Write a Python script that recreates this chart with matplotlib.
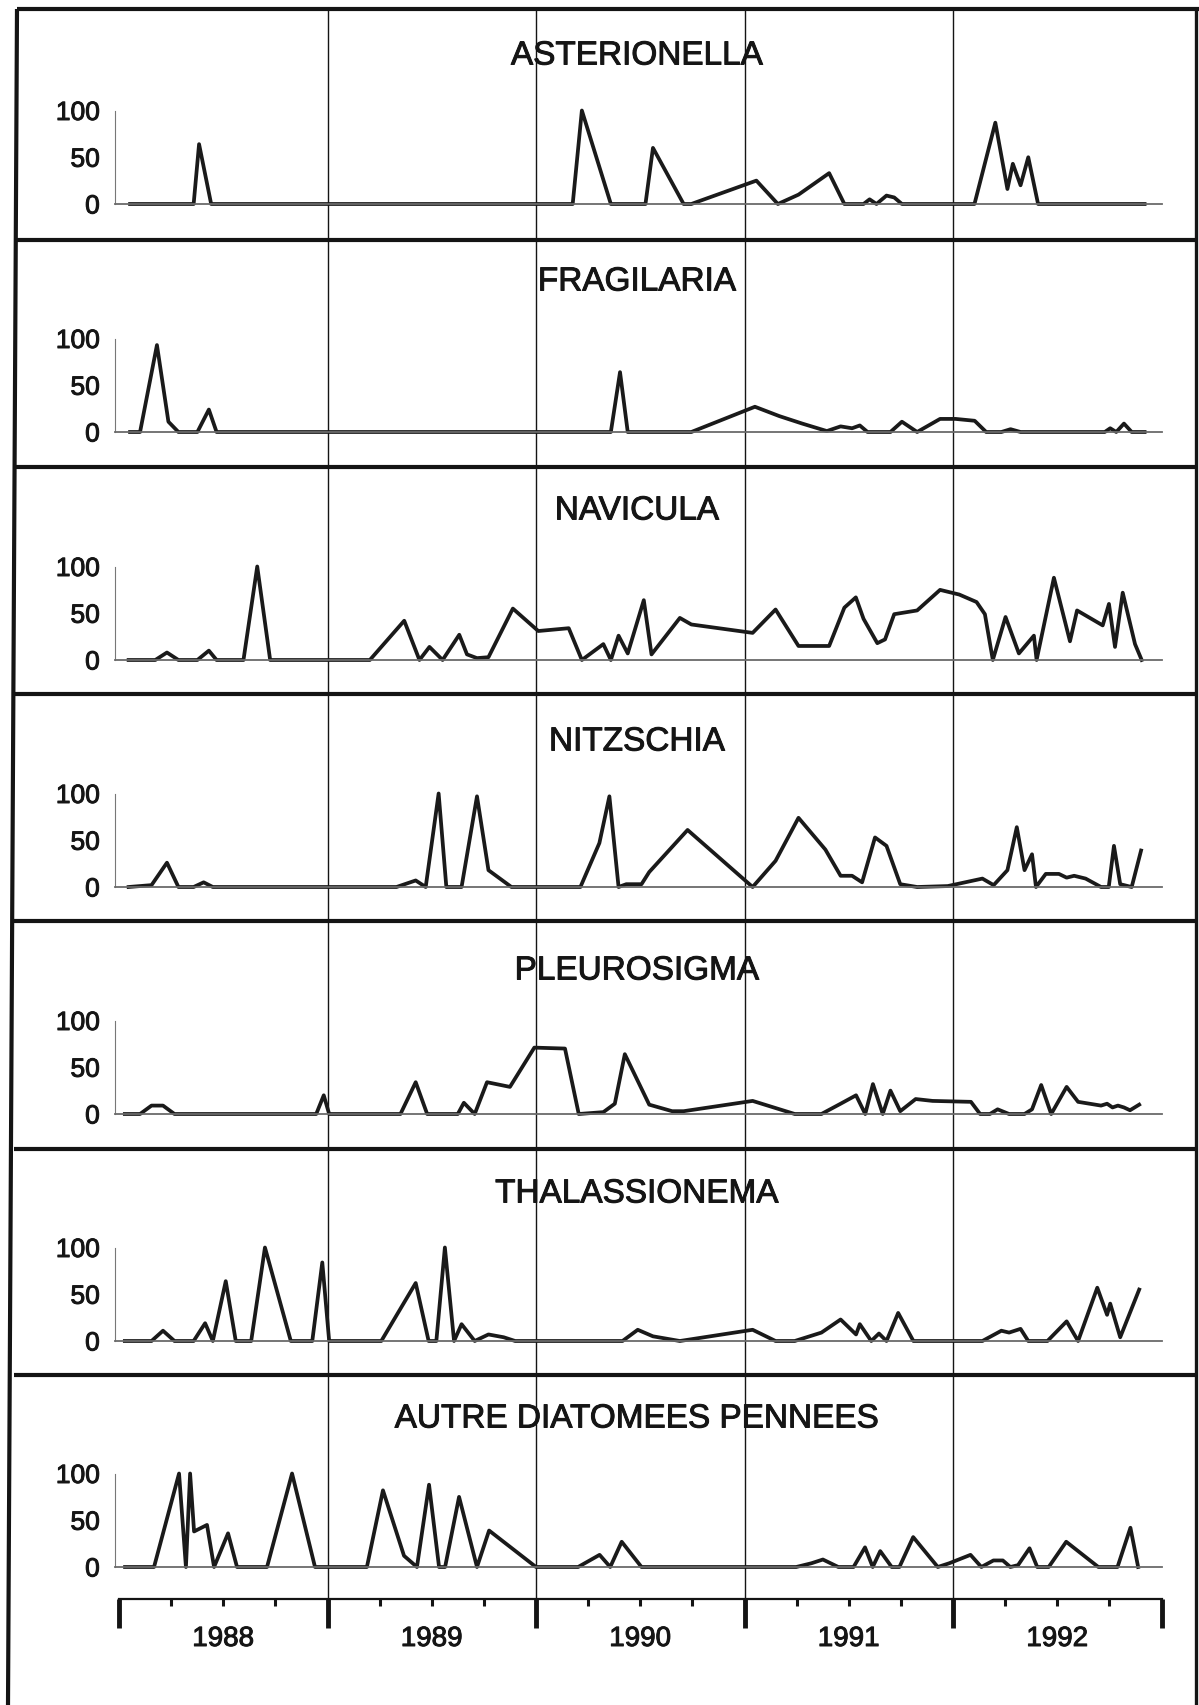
import matplotlib
matplotlib.use("Agg")
import matplotlib.pyplot as plt
import matplotlib.patheffects as pe
from matplotlib.lines import Line2D
from matplotlib.transforms import blended_transform_factory

plt.rcParams['font.family'] = ['Liberation Sans', 'DejaVu Sans']

# ---------------- data (decimal years, relative abundance 0-100) ----------------
asterionella_t = [1988.053, 1988.358, 1988.384, 1988.442, 1990.176, 1990.220, 1990.359, 1990.525,
                  1990.561, 1990.708, 1990.745, 1990.782, 1991.057, 1991.160, 1991.259, 1991.406,
                  1991.479, 1991.571, 1991.600, 1991.633, 1991.681, 1991.718, 1991.755, 1992.103,
                  1992.203, 1992.261, 1992.287, 1992.324, 1992.361, 1992.408, 1992.919]
asterionella_v = [0, 0, 64, 0, 0, 100, 0, 0,
                  60, 0, 0, 3, 25, 0, 10, 33,
                  0, 0, 5, 0, 9, 7, 0, 0,
                  87, 16, 43, 20, 50, 0, 0]

fragilaria_t = [1988.053, 1988.101, 1988.182, 1988.237, 1988.285, 1988.376, 1988.431, 1988.468,
                1990.359, 1990.403, 1990.440, 1990.745, 1991.050, 1991.167, 1991.277, 1991.395,
                1991.461, 1991.516, 1991.553, 1991.590, 1991.700, 1991.755, 1991.828, 1991.938,
                1992.012, 1992.104, 1992.159, 1992.232, 1992.276, 1992.324, 1992.728, 1992.754,
                1992.783, 1992.820, 1992.857, 1992.919]
fragilaria_v = [0, 0, 93, 11, 0, 0, 24, 0,
                0, 64, 0, 0, 27, 17, 9, 1,
                6, 4, 7, 0, 0, 11, 0, 14,
                14, 12, 0, 0, 3, 0, 0, 4,
                0, 9, 0, 0]

navicula_t = [1988.046, 1988.174, 1988.230, 1988.285, 1988.376, 1988.431, 1988.468, 1988.597,
              1988.663, 1988.725, 1989.203, 1989.368, 1989.441, 1989.489, 1989.552, 1989.632,
              1989.669, 1989.717, 1989.772, 1989.889, 1990.011, 1990.157, 1990.220, 1990.323,
              1990.359, 1990.396, 1990.440, 1990.517, 1990.554, 1990.690, 1990.745, 1991.039,
              1991.149, 1991.259, 1991.406, 1991.479, 1991.534, 1991.571, 1991.637, 1991.674,
              1991.718, 1991.773, 1991.828, 1991.938, 1992.030, 1992.113, 1992.153, 1992.191,
              1992.252, 1992.316, 1992.388, 1992.401, 1992.484, 1992.561, 1992.595, 1992.718,
              1992.748, 1992.777, 1992.814, 1992.873, 1992.905]
navicula_v = [0, 0, 8, 0, 0, 10, 0, 0,
              100, 0, 0, 42, 0, 14, 0, 27,
              6, 2, 3, 55, 31, 34, 0, 17,
              0, 26, 7, 64, 6, 45, 38, 29,
              54, 15, 15, 56, 67, 44, 18, 22,
              49, 51, 53, 75, 70, 62, 49, 0,
              46, 7, 26, 0, 88, 20, 53, 37,
              60, 14, 72, 17, 0]

nitzschia_t = [1988.046, 1988.156, 1988.230, 1988.285, 1988.358, 1988.406, 1988.450, 1989.331,
               1989.423, 1989.471, 1989.533, 1989.570, 1989.643, 1989.717, 1989.772, 1989.882,
               1990.213, 1990.304, 1990.352, 1990.396, 1990.433, 1990.506, 1990.543, 1990.727,
               1991.039, 1991.149, 1991.259, 1991.388, 1991.461, 1991.516, 1991.564, 1991.626,
               1991.681, 1991.747, 1991.828, 1991.975, 1992.141, 1992.195, 1992.261, 1992.306,
               1992.343, 1992.379, 1992.398, 1992.445, 1992.508, 1992.545, 1992.581, 1992.636,
               1992.710, 1992.747, 1992.772, 1992.802, 1992.857, 1992.902]
nitzschia_v = [0, 2, 26, 0, 0, 5, 0, 0,
               7, 0, 100, 0, 0, 97, 18, 0,
               0, 47, 97, 0, 3, 3, 16, 61,
               0, 28, 74, 40, 12, 12, 5, 53,
               44, 3, 0, 1, 9, 2, 18, 64,
               18, 35, 0, 14, 14, 10, 12, 9,
               0, 0, 44, 3, 0, 39]

pleurosigma_t = [1988.028, 1988.101, 1988.156, 1988.211, 1988.266, 1988.946, 1988.982, 1989.008,
                 1989.350, 1989.423, 1989.478, 1989.625, 1989.654, 1989.706, 1989.765, 1989.875,
                 1989.992, 1990.139, 1990.205, 1990.323, 1990.378, 1990.426, 1990.543, 1990.653,
                 1990.708, 1991.039, 1991.241, 1991.369, 1991.461, 1991.535, 1991.579, 1991.616,
                 1991.663, 1991.700, 1991.747, 1991.821, 1991.902, 1992.086, 1992.130, 1992.177,
                 1992.214, 1992.269, 1992.343, 1992.379, 1992.423, 1992.471, 1992.545, 1992.600,
                 1992.710, 1992.739, 1992.765, 1992.791, 1992.820, 1992.849, 1992.893]
pleurosigma_v = [0, 0, 9, 9, 0, 0, 20, 0,
                 0, 34, 0, 0, 12, 0, 34, 29,
                 71, 70, 0, 2, 11, 64, 10, 3,
                 3, 14, 0, 0, 11, 20, 0, 32,
                 0, 25, 3, 16, 14, 13, 0, 0,
                 5, 0, 0, 5, 31, 0, 29, 13,
                 9, 11, 7, 9, 7, 4, 10]

thalassionema_t = [1988.028, 1988.156, 1988.211, 1988.266, 1988.358, 1988.413, 1988.450, 1988.512,
                   1988.560, 1988.634, 1988.700, 1988.824, 1988.927, 1988.975, 1989.008, 1989.258,
                   1989.423, 1989.485, 1989.522, 1989.563, 1989.607, 1989.643, 1989.706, 1989.772,
                   1989.845, 1989.900, 1990.415, 1990.488, 1990.561, 1990.690, 1991.039, 1991.149,
                   1991.241, 1991.369, 1991.461, 1991.535, 1991.553, 1991.608, 1991.645, 1991.681,
                   1991.737, 1991.810, 1992.141, 1992.232, 1992.269, 1992.324, 1992.361, 1992.453,
                   1992.545, 1992.600, 1992.692, 1992.739, 1992.754, 1992.802, 1992.893]
thalassionema_v = [0, 0, 11, 0, 0, 19, 0, 64,
                   0, 0, 100, 0, 0, 84, 0, 0,
                   62, 0, 0, 100, 0, 18, 0, 7,
                   4, 0, 0, 12, 5, 0, 12, 0,
                   0, 9, 23, 7, 18, 0, 8, 0,
                   30, 0, 0, 11, 9, 13, 0, 0,
                   21, 0, 57, 28, 40, 4, 55]

autres_t = [1988.029, 1988.168, 1988.288, 1988.321, 1988.341, 1988.360, 1988.422, 1988.456,
            1988.523, 1988.566, 1988.710, 1988.830, 1988.940, 1989.189, 1989.266, 1989.367,
            1989.429, 1989.487, 1989.535, 1989.564, 1989.631, 1989.717, 1989.775, 1990.000,
            1990.202, 1990.305, 1990.356, 1990.411, 1990.506, 1991.248, 1991.321, 1991.376,
            1991.450, 1991.523, 1991.578, 1991.615, 1991.651, 1991.706, 1991.743, 1991.809,
            1991.927, 1991.982, 1992.084, 1992.136, 1992.194, 1992.239, 1992.275, 1992.312,
            1992.367, 1992.404, 1992.459, 1992.543, 1992.697, 1992.789, 1992.851, 1992.888]
autres_v = [0, 0, 100, 0, 100, 38, 45, 0,
            36, 0, 0, 100, 0, 0, 82, 12,
            0, 88, 0, 0, 75, 0, 39, 0,
            0, 13, 0, 27, 0, 0, 4, 8,
            0, 0, 21, 0, 17, 0, 0, 32,
            0, 4, 13, 0, 7, 7, 0, 2,
            20, 0, 0, 27, 0, 0, 42, 0]

taxa = ["ASTERIONELLA", "FRAGILARIA", "NAVICULA", "NITZSCHIA",
        "PLEUROSIGMA", "THALASSIONEMA", "AUTRE DIATOMEES PENNEES"]
series_t = [asterionella_t, fragilaria_t, navicula_t, nitzschia_t,
            pleurosigma_t, thalassionema_t, autres_t]
series_v = [asterionella_v, fragilaria_v, navicula_v, nitzschia_v,
            pleurosigma_v, thalassionema_v, autres_v]

years = [1988, 1989, 1990, 1991, 1992]
year_labels = ["1988", "1989", "1990", "1991", "1992"]
year_bounds = [1989, 1990, 1991, 1992]
y_ticks = [0, 50, 100]
y_ticklabels = ["0", "50", "100"]

# ---------------- layout ----------------
W, H = 1199, 1706
fig = plt.figure(figsize=(W / 100, H / 100), dpi=100)

X0_PX, PX_PER_YEAR = 119.0, 208.5
AX_L, AX_R = 115.0, 1161.5
xlim = (1988 + (AX_L - X0_PX) / PX_PER_YEAR, 1988 + (AX_R - X0_PX) / PX_PER_YEAR)


def rect(left, top, right, bottom):
    return [left / W, 1 - bottom / H, (right - left) / W, (bottom - top) / H]


INK = '#141414'
TXT = '#151515'
bolden = [pe.withStroke(linewidth=0.7, foreground=TXT)]


def fline(xs, ys, lw, color=INK):
    fig.add_artist(Line2D([x / W for x in xs], [1 - y / H for y in ys],
                          color=color, lw=lw, solid_capstyle='butt'))


# outer frame and panel separators
fline([17, 1199], [10, 10], 3.0)
fline([17, 8], [10, 1706], 3.0)
fline([1196, 1196], [10, 1706], 2.4)
for ysep in [241, 468, 695, 922, 1150, 1376]:
    fline([14, 1196], [ysep, ysep], 3.0)

# vertical year-boundary lines through all panels
ov = fig.add_axes(rect(AX_L, 10, AX_R, 1600))
ov.set_xlim(xlim)
ov.set_ylim(0, 1)
ov.axis('off')
for b in year_bounds:
    ov.axvline(b, color=INK, lw=1.0)

zero_px = [205, 433, 661, 888, 1115, 1342, 1568]
title_px = [57, 283, 512, 743, 972, 1195, 1420]

for i, name in enumerate(taxa):
    z = zero_px[i]
    ax = fig.add_axes(rect(AX_L, z - 93.5, AX_R, z))
    ax.patch.set_visible(False)
    ax.set_xlim(xlim)
    ax.set_ylim(0, 100)
    ax.plot(series_t[i], series_v[i], color='#1a1a1a', lw=2.7, clip_on=False)
    for s in ['top', 'right']:
        ax.spines[s].set_visible(False)
    ax.spines['left'].set_color('#777777')
    ax.spines['left'].set_linewidth(0.8)
    ax.spines['bottom'].set_color('#6a6a6a')
    ax.spines['bottom'].set_linewidth(1.3)
    ax.set_xticks([])
    ax.set_yticks(y_ticks)
    ax.set_yticklabels(y_ticklabels)
    ax.tick_params(axis='y', length=0, pad=11, labelsize=19, labelcolor=TXT)
    for lab in ax.get_yticklabels():
        lab.set_path_effects(bolden)
    fig.text(637 / W, 1 - title_px[i] / H, name, ha='center', va='center',
             fontsize=24, color=TXT, path_effects=bolden)

# bottom time axis
bx = fig.add_axes(rect(AX_L, 1599, AX_R, 1600))
bx.patch.set_visible(False)
bx.set_xlim(xlim)
for s in ['top', 'right', 'left']:
    bx.spines[s].set_visible(False)
bx.spines['bottom'].set_bounds(years[0], years[-1] + 1)
bx.spines['bottom'].set_linewidth(1.6)
bx.spines['bottom'].set_color(INK)
bx.set_yticks([])
bx.set_xticks(years + [years[-1] + 1])
bx.set_xticklabels([])
bx.set_xticks([y + q for y in years for q in (0.25, 0.5, 0.75)], minor=True)
bx.tick_params(axis='x', which='major', length=21, width=3.5, direction='out', color=INK)
bx.tick_params(axis='x', which='minor', length=5, width=2.2, direction='out', color=INK)
tr = blended_transform_factory(bx.transData, fig.transFigure)
for y, lab in zip(years, year_labels):
    bx.text(y + 0.5, 1 - 1640 / H, lab, transform=tr, ha='center', va='center',
            fontsize=20, color=TXT, path_effects=bolden)

fig.savefig('out.png', dpi=100)
